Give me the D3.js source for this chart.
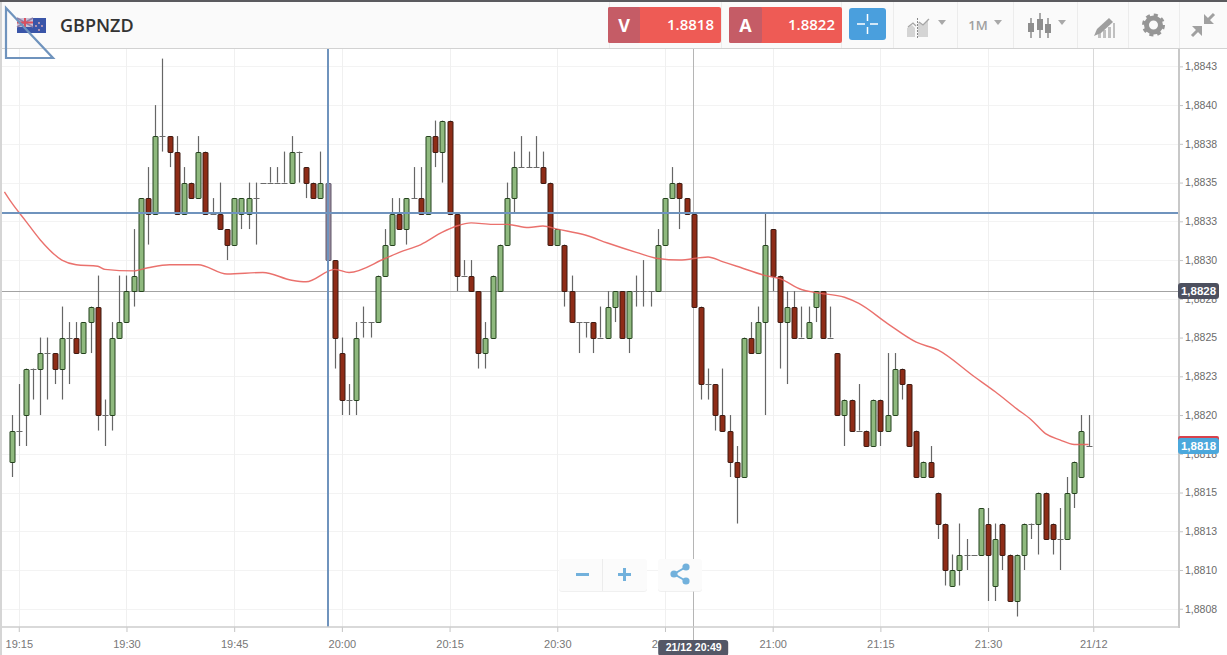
<!DOCTYPE html>
<html>
<head>
<meta charset="utf-8">
<title>GBPNZD</title>
<script src="https://cdn.jsdelivr.net/npm/d3@7/dist/d3.min.js"></script>
<style>
html,body{margin:0;padding:0;background:#fff;overflow:hidden}
svg{display:block}
text{font-family:"Liberation Sans",Arial,sans-serif}
</style>
</head>
<body>
<div id="chart"></div>
<script>
// prices are kept in pips, 8817 means 1,8817. one candle per minute, slot 0 = 19:14
var opens=[8817,8819,8820,8823,8823,8824,8824,8823,8825,8825,
8824,8826,8827,8820,8820,8825,8826,8828,8828,8834,
8833,8838,8838,8837,8833,8835,8834,8837,8833,8833,
8832,8831,8833,8833,8834,8835,8835,8835,8835,8835,
8837,8836,8835,8834,8835,8830,8824,8821,8821,8826,
8826,8826,8829,8831,8833,8832,8834,8834,8833,8838,
8837,8839,8833,8829,8829,8828,8824,8825,8828,8831,
8834,8836,8836,8836,8836,8835,8831,8831,8828,8826,
8826,8826,8825,8825,8827,8828,8825,8828,8828,8828,
8828,8831,8834,8835,8834,8833,8827,8822,8822,8820,
8819,8817,8816,8825,8824,8826,8832,8829,8826,8827,
8825,8825,8827,8828,8825,8824,8820,8821,8819,8819,
8818,8821,8819,8820,8823,8822,8819,8816,8817,8815,
8813,8809,8810,8811,8811,8811,8813,8809,8813,8811,
8808,8811,8813,8813,8815,8813,8812,8812,8815,8816,8818]
var highs=[8820,8822,8823,8823,8825,8825,8824,8827,8826,8826,
8826,8827,8829,8821,8826,8829,8829,8832,8834,8836,
8840,8843,8838,8838,8836,8835,8838,8837,8834,8835,
8832,8834,8834,8835,8835,8835,8836,8836,8837,8838,
8837,8836,8835,8837,8835,8830,8825,8822,8826,8827,
8826,8829,8832,8834,8834,8834,8836,8836,8838,8839,
8839,8839,8833,8830,8830,8828,8826,8829,8831,8835,
8837,8838,8837,8838,8837,8835,8832,8831,8829,8826,
8826,8826,8827,8828,8828,8828,8828,8829,8830,8828,
8832,8834,8836,8835,8834,8833,8827,8823,8822,8823,
8820,8818,8825,8826,8827,8833,8832,8829,8828,8828,
8827,8827,8828,8828,8827,8824,8821,8821,8822,8819,
8821,8821,8824,8824,8823,8822,8819,8817,8818,8815,
8813,8811,8813,8812,8811,8814,8814,8813,8813,8811,
8811,8813,8813,8815,8815,8813,8814,8816,8817,8820,8820]
var lows=[8816,8818,8818,8821,8820,8821,8822,8821,8822,8824,
8824,8824,8819,8818,8819,8825,8826,8827,8828,8831,
8833,8837,8836,8833,8833,8834,8834,8833,8833,8832,
8830,8831,8832,8832,8831,8835,8835,8835,8835,8835,
8835,8834,8834,8834,8830,8823,8820,8820,8820,8825,
8825,8826,8829,8831,8832,8831,8834,8833,8833,8836,
8835,8833,8828,8829,8828,8823,8823,8825,8828,8831,
8833,8836,8836,8836,8835,8831,8831,8827,8826,8824,
8825,8824,8825,8825,8826,8825,8824,8827,8827,8827,
8828,8831,8834,8832,8833,8827,8821,8821,8819,8819,
8816,8813,8816,8824,8824,8820,8828,8823,8822,8825,
8825,8825,8826,8825,8825,8820,8818,8819,8819,8818,
8818,8818,8819,8820,8821,8818,8816,8816,8816,8812,
8809,8809,8809,8810,8811,8811,8808,8808,8810,8808,
8807,8810,8812,8811,8812,8811,8810,8812,8814,8816,8818]
var closes=[8819,8819,8823,8823,8824,8824,8823,8825,8825,8824,
8826,8827,8820,8820,8825,8826,8828,8829,8834,8833,
8838,8838,8837,8833,8835,8834,8837,8833,8833,8832,
8831,8834,8834,8834,8834,8835,8835,8835,8835,8837,
8837,8835,8834,8835,8830,8825,8821,8821,8825,8826,
8826,8829,8831,8833,8832,8834,8834,8833,8838,8837,
8839,8833,8829,8829,8828,8824,8825,8829,8831,8834,
8836,8836,8836,8836,8835,8831,8832,8828,8826,8826,
8826,8825,8825,8827,8828,8825,8828,8828,8828,8828,
8831,8834,8835,8834,8833,8827,8822,8822,8820,8819,
8817,8816,8825,8824,8826,8831,8829,8826,8827,8825,
8825,8826,8828,8825,8825,8820,8821,8819,8819,8818,
8821,8819,8820,8823,8822,8818,8816,8817,8816,8813,
8810,8810,8811,8811,8811,8814,8811,8812,8811,8808,
8811,8813,8813,8815,8812,8812,8812,8815,8817,8819,8818]

// moving average, read at these slots only
var maSlots=[-1,0,2,4,7,9,12,13,17,19,22,26,30,35,39,41,45,47,52,54,57,60,62,64,67,69,72,74,76,80,83,87,90,93,97,99,101,105,107,110,112,116,118,122,126,129,134,137,140,142,144,146,148,150]
var maValues=[8834.4,8833.7,8832.5,8831.3,8830,8829.7,8829.6,8829.4,8829.3,8829.5,8829.7,8829.7,8829.1,8829.2,8828.7,8828.6,8829.4,8829.2,8830.1,8830.5,8831,8831.8,8832.2,8832.4,8832.3,8832.3,8832.1,8832.2,8832,8831.6,8831.1,8830.5,8830.1,8830,8830.2,8829.9,8829.6,8829,8828.8,8828.1,8827.9,8827.6,8827.2,8825.9,8824.7,8824.2,8822.5,8821.5,8820.4,8819.7,8818.8,8818.4,8818.1,8818.1]

var priceTicks=[8842.5,8840,8837.5,8835,8832.5,8830,8827.5,8825,8822.5,8820,8817.5,8815,8812.5,8810,8807.5]
var priceLabels=['1,8843','1,8840','1,8838','1,8835','1,8833','1,8830','1,8828','1,8825','1,8823','1,8820','1,8818','1,8815','1,8813','1,8810','1,8808']
var timeTicks=[1,16,31,46,61,76,91,106,121,136,150.65]
var timeLabels=['19:15','19:30','19:45','20:00','20:15','20:30','20:45','21:00','21:15','21:30','21/12']

var symbol='GBPNZD'
var bidLabel='V', bidPrice='1.8818', askLabel='A', askPrice='1.8822'
var intervalLabel='1M'
var crossSlot=95, crossPrice=8828, crossPriceLabel='1,8828', crossTimeLabel='21/12 20:49'
var lastPrice=8818, lastPriceLabel='1,8818'
var trendSlot=44, trendPrice=8833

var width=1227, height=655
var plotTop=48, plotBottom=627, plotRight=1179
var candleWidth=5

var x=d3.scaleLinear().domain([0,150]).range([11.6,1088.6])
var y=d3.scaleLinear().domain([8807,8843]).range([616.5,58.6])

var svg=d3.select('#chart').append('svg').attr('width',width).attr('height',height)
svg.append('rect').attr('width',width).attr('height',height).attr('fill','#fff')

// grid
var grid=svg.append('g')
grid.selectAll('.hgrid').data(priceTicks).enter().append('line')
    .attr('x1',0).attr('x2',plotRight)
    .attr('y1',function(d){return Math.round(y(d))+.5})
    .attr('y2',function(d){return Math.round(y(d))+.5})
    .attr('stroke','#f3f3f3')
grid.selectAll('.vgrid').data(timeTicks).enter().append('line')
    .attr('x1',function(d){return Math.round(x(d))+.5})
    .attr('x2',function(d){return Math.round(x(d))+.5})
    .attr('y1',plotTop).attr('y2',plotBottom)
    .attr('stroke',function(d,i){return i==timeTicks.length-1?'#d9d9d9':'#f0f0f0'})

// crosshair goes under the candles
svg.append('line').attr('x1',0).attr('x2',plotRight).attr('y1',Math.round(y(crossPrice))+.5).attr('y2',Math.round(y(crossPrice))+.5).attr('stroke','#a3a3a3')
svg.append('line').attr('x1',Math.round(x(crossSlot))-.5).attr('x2',Math.round(x(crossSlot))-.5).attr('y1',plotTop).attr('y2',641).attr('stroke','#b5b5b5')

// candles
var candles=svg.append('g').selectAll('g').data(opens).enter().append('g')
candles.append('line')
    .attr('x1',function(d,i){return Math.round(x(i))+.5})
    .attr('x2',function(d,i){return Math.round(x(i))+.5})
    .attr('y1',function(d,i){return y(highs[i])})
    .attr('y2',function(d,i){return y(lows[i])})
    .attr('stroke','#666')
    .attr('stroke-width',1.2)
candles.each(function(d,i){
    var g=d3.select(this)
    var cx=Math.round(x(i))+.5
    if(opens[i]==closes[i]){
        g.append('line').attr('x1',cx-3).attr('x2',cx+3)
            .attr('y1',Math.round(y(opens[i]))+.5).attr('y2',Math.round(y(opens[i]))+.5)
            .attr('stroke','#6a6a6a')
        return
    }
    var top=y(Math.max(opens[i],closes[i])), bot=y(Math.min(opens[i],closes[i]))
    var up=closes[i]>opens[i]
    g.append('rect').attr('x',cx-candleWidth/2).attr('width',candleWidth)
        .attr('y',Math.round(top)+.5).attr('height',Math.round(bot)-Math.round(top))
        .attr('rx',.5)
        .attr('fill',i==trendSlot?'#9c8ca0':(up?'#8fb97e':'#8e2c17'))
        .attr('stroke',i==trendSlot?'#5e5668':(up?'#23401c':'#3c1a12'))
        .attr('stroke-width',1)
})

// moving average
var maLine=d3.line().x(function(d,i){return x(maSlots[i])}).y(function(d){return y(d)}).curve(d3.curveMonotoneX)
svg.append('path').attr('d',maLine(maValues)).attr('fill','none').attr('stroke','#e8625d').attr('stroke-width',1.4).attr('stroke-opacity',.9)

// drawn trend lines
svg.append('line').attr('x1',0).attr('x2',plotRight).attr('y1',Math.floor(y(trendPrice))).attr('y2',Math.floor(y(trendPrice))).attr('stroke','#6f93bd').attr('stroke-width',2)
svg.append('line').attr('x1',Math.ceil(x(trendSlot))).attr('x2',Math.ceil(x(trendSlot))).attr('y1',plotTop).attr('y2',plotBottom).attr('stroke','#6f93bd').attr('stroke-width',2)

// axes
var yAxis=d3.axisRight(y).tickValues(priceTicks).tickSize(4).tickPadding(2)
    .tickFormat(function(d,i){return priceLabels[i]})
var xAxis=d3.axisBottom(x).tickValues(timeTicks).tickSize(5).tickPadding(8)
    .tickFormat(function(d,i){return timeLabels[i]})
var gy=svg.append('g').attr('transform','translate('+plotRight+',0)').call(yAxis)
var gx=svg.append('g').attr('transform','translate(0,'+plotBottom+')').call(xAxis)
gy.select('.domain').remove()
gx.select('.domain').remove()
gy.selectAll('line').attr('stroke','#c4c4c4')
gx.selectAll('line').attr('stroke','#c4c4c4')
gy.selectAll('text').attr('fill','#6b6b6b').style('font-size','10.5px')
gx.selectAll('text').attr('fill','#777').style('font-size','11px')
svg.append('line').attr('x1',plotRight).attr('x2',plotRight).attr('y1',plotTop).attr('y2',plotBottom+1).attr('stroke','#c8c8c8').attr('stroke-width',2)
svg.append('line').attr('x1',0).attr('x2',plotRight).attr('y1',plotBottom).attr('y2',plotBottom).attr('stroke','#cdcdcd').attr('stroke-width',1.5)

// price tags on the axis
function priceTag(price,label,fill){
    var py=y(price)
    svg.append('rect').attr('x',plotRight-1).attr('y',py-8).attr('width',41).attr('height',16).attr('rx',3).attr('fill',fill)
    svg.append('text').attr('x',plotRight+19.5).attr('y',py+4).attr('text-anchor','middle')
        .attr('fill','#fff').style('font-size','11.5px').style('font-weight','bold').text(label)
}
priceTag(crossPrice,crossPriceLabel,'#4d505f')
svg.append('rect').attr('x',plotRight-1).attr('y',436).attr('width',41).attr('height',6).attr('rx',2).attr('fill','#d8414c')
priceTag(lastPrice,lastPriceLabel,'#4ba8dc')

// time tag
svg.append('rect').attr('x',x(crossSlot)-35.5).attr('y',640).attr('width',70).attr('height',16).attr('rx',3).attr('fill','#545766')
svg.append('text').attr('x',x(crossSlot)).attr('y',651).attr('text-anchor','middle').attr('fill','#fff')
    .style('font-size','10.5px').style('font-weight','bold').text(crossTimeLabel)

// zoom and share buttons
function floatBox(bx,bw){
    svg.append('rect').attr('x',bx).attr('y',560).attr('width',bw).attr('height',32).attr('rx',3).attr('fill','#e9e9e9').attr('opacity',.7)
    svg.append('rect').attr('x',bx).attr('y',559).attr('width',bw).attr('height',32).attr('rx',3).attr('fill','#fbfbfb')
}
floatBox(559,88)
floatBox(658,44)
svg.append('line').attr('x1',602.5).attr('x2',602.5).attr('y1',559).attr('y2',591).attr('stroke','#ececec')
svg.append('path').attr('d','M576 574.5h13M618 574.5h13M624.5 568v13').attr('stroke','#72b1dc').attr('stroke-width',3).attr('fill','none')
svg.append('path').attr('d','M686 567L674 574L686 581').attr('stroke','#72b1dc').attr('stroke-width',2).attr('fill','none')
svg.selectAll('.share').data([[686,567],[674,574],[686,581]]).enter().append('circle')
    .attr('cx',function(d){return d[0]}).attr('cy',function(d){return d[1]}).attr('r',3.6).attr('fill','#72b1dc')

// header bar
var head=svg.append('g')
head.append('rect').attr('width',width).attr('height',48).attr('fill','#fafafa')
head.append('rect').attr('width',width).attr('height',2).attr('fill','#5a5a5e')
head.append('line').attr('x1',0).attr('x2',width).attr('y1',48.5).attr('y2',48.5).attr('stroke','#d2d2d2')
head.selectAll('.sep').data([609,721,841,893,957,1013,1077,1128,1179]).enter().append('line')
    .attr('x1',function(d){return d+.5}).attr('x2',function(d){return d+.5})
    .attr('y1',2).attr('y2',48).attr('stroke','#ececec')
svg.append('rect').attr('width',2).attr('y',2).attr('height',height).attr('fill','#d5d5d5')

// flag
head.append('rect').attr('x',17).attr('y',18).attr('width',29).attr('height',15).attr('fill','#3a55a8')
head.append('rect').attr('x',17).attr('y',18).attr('width',16).attr('height',9).attr('fill','#c9c3d8')
head.append('path').attr('d','M17 18l16 9M33 18l-16 9').attr('stroke','#8d7fa8').attr('stroke-width',1.5)
head.append('path').attr('d','M17 22.5h16M25 18v9').attr('stroke','#d9505f').attr('stroke-width',2)
head.selectAll('.star').data([[39,23],[42,26],[39,30],[36,26]]).enter().append('circle')
    .attr('cx',function(d){return d[0]}).attr('cy',function(d){return d[1]}).attr('r',.9).attr('fill','#e9b0b8')

head.append('text').attr('x',60).attr('y',32).attr('fill','#333')
    .style('font-family','"Open Sans",sans-serif').style('font-size','18px').style('font-weight','600').text(symbol)

// bid / ask buttons
function quote(bx,bw,dark,label,value){
    head.append('rect').attr('x',bx).attr('y',7).attr('width',bw).attr('height',36).attr('rx',2).attr('fill','#ee5b55')
    head.append('rect').attr('x',bx).attr('y',7).attr('width',dark).attr('height',36).attr('rx',2).attr('fill','#c55c66')
    head.append('text').attr('x',bx+dark/2).attr('y',32).attr('text-anchor','middle').attr('fill','#fff')
        .style('font-family','"Open Sans",sans-serif').style('font-size','18px').style('font-weight','700').text(label)
    head.append('text').attr('x',bx+bw-7).attr('y',30).attr('text-anchor','end').attr('fill','#fff')
        .style('font-family','"Open Sans",sans-serif').style('font-size','15px').style('font-weight','600').text(value)
}
quote(608,113,32,bidLabel,bidPrice)
quote(729,113,33,askLabel,askPrice)

// crosshair toggle
head.append('rect').attr('x',849).attr('y',8).attr('width',37).attr('height',32).attr('rx',3).attr('fill','#4a9fdd')
head.append('path').attr('d','M857 24h8M870 24h8M867.5 14v7M867.5 27v7').attr('stroke','#fff').attr('stroke-width',1.5)

// toolbar icons
var iconGrey='#a9a9a9'
head.append('path').attr('d','M907 37v-9l5-3 3 3v9zM918 37V22l5 3 5-6v18z').attr('fill','#d4d4d4')
head.append('path').attr('d','M908 27l5-4 3 3M919 22l4 3 6-6').attr('stroke','#a5a5a5').attr('stroke-width',1.3).attr('fill','none')
head.append('path').attr('d','M917.5 18v20').attr('stroke','#888').attr('stroke-width',1).attr('stroke-dasharray','2 1')
head.selectAll('.caret').data([942,998,1062]).enter().append('path')
    .attr('d',function(d){return 'M'+(d-4)+' 20h8l-4 5z'}).attr('fill',iconGrey)
head.append('text').attr('x',978).attr('y',30).attr('text-anchor','middle').attr('fill','#a0a0a0')
    .style('font-family','"Open Sans",sans-serif').style('font-size','13px').style('font-weight','600').text(intervalLabel)
head.append('path').attr('d','M1031 18v20M1040 13v25M1048 18v20').attr('stroke','#8d8d8d').attr('stroke-width',1.5)
head.append('path').attr('d','M1028 23h6v9h-6zM1037 19h6v11h-6zM1045 24h6v9h-6z').attr('fill','#8d8d8d')
// pencil over small bars
head.append('path').attr('d','M1098 38v-5h3v5zM1103 38v-8h3v8zM1108 38V27h3v11zM1113 38V23h2v15z').attr('fill','#c0c0c0')
head.append('path').attr('d','M1094 36l3-7 12-11 4 4-12 11z').attr('fill','#9f9f9f')
head.append('circle').attr('cx',1153.5).attr('cy',25).attr('r',7).attr('fill','none').attr('stroke','#969696').attr('stroke-width',5)
head.append('circle').attr('cx',1153.5).attr('cy',25).attr('r',10).attr('fill','none').attr('stroke','#969696').attr('stroke-width',3).attr('stroke-dasharray','4 3.85')
head.append('path').attr('d','M1204 14v10h10zM1192 26h10v10z').attr('fill','#a0a0a0')
head.append('path').attr('d','M1207 21l7-7M1199 29l-7 7').attr('stroke','#a0a0a0').attr('stroke-width',3)

// triangle drawn on top of everything
svg.append('path').attr('d','M6 8V58H53Z').attr('fill','none').attr('stroke','#6f93bd').attr('stroke-width',2.2)
</script>
</body>
</html>
